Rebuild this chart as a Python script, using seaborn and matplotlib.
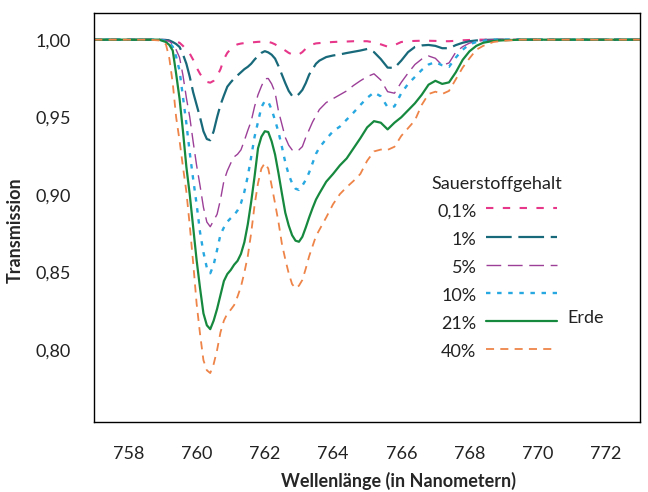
import matplotlib
matplotlib.use("Agg")
import matplotlib.pyplot as plt
import pandas as pd
import seaborn as sns

# ── data ─────────────────────────────────────────────────────────────────────
wavelength = [757.0, 758.0, 758.6, 758.9,
              759.1, 759.2, 759.3, 759.4, 759.5, 759.6, 759.7, 759.8, 759.9,
              760.0, 760.1, 760.2, 760.3, 760.4, 760.5, 760.6, 760.7, 760.8, 760.9,
              761.0, 761.1, 761.2, 761.3, 761.4, 761.5, 761.6, 761.7, 761.8, 761.9,
              762.0, 762.1, 762.2, 762.3, 762.4, 762.5, 762.6, 762.7, 762.8, 762.9,
              763.0, 763.1, 763.2, 763.3, 763.4, 763.5, 763.6,
              763.8, 764.0, 764.2, 764.4, 764.6, 764.8, 765.0, 765.2, 765.4, 765.6,
              765.8, 766.0, 766.2, 766.4, 766.6, 766.8, 767.0, 767.2, 767.4, 767.6,
              767.8, 768.0, 768.2, 768.4, 768.7, 769.0, 769.5, 773.0]

t_0_1 = [1.0, 1.0, 1.0, 1.0,
         0.9998, 0.9997, 0.9993, 0.9987, 0.998, 0.996, 0.9935, 0.991, 0.987,
         0.982, 0.978, 0.9748, 0.9728, 0.9723, 0.9735, 0.9765, 0.981, 0.9875, 0.9915,
         0.994, 0.996, 0.997, 0.9975, 0.9978, 0.998, 0.9982, 0.9984, 0.9986, 0.9987,
         0.9988, 0.9986, 0.998, 0.997, 0.9955, 0.9945, 0.993, 0.9915, 0.9905, 0.9901,
         0.9905, 0.992, 0.9942, 0.996, 0.997, 0.9976, 0.9978,
         0.9982, 0.9985, 0.9987, 0.9988, 0.999, 0.999, 0.999, 0.9982, 0.997, 0.9955,
         0.9965, 0.9985, 0.999, 0.9992, 0.9993, 0.9993, 0.9992, 0.999, 0.999, 0.9993,
         0.9996, 0.9998, 1.0, 1.0, 1.0, 1.0, 1.0, 1.0]

t_1 = [1.0, 1.0, 1.0, 1.0,
       0.9998, 0.9995, 0.9985, 0.9972, 0.9953, 0.9905, 0.9845, 0.976, 0.966,
       0.958, 0.950, 0.941, 0.936, 0.9352, 0.941, 0.950, 0.958, 0.964, 0.9697,
       0.9725, 0.975, 0.977, 0.979, 0.981, 0.9825, 0.9845, 0.9872, 0.9895, 0.9915,
       0.9926, 0.9918, 0.9903, 0.9878, 0.983, 0.9775, 0.972, 0.967, 0.9638, 0.9632,
       0.965, 0.9676, 0.972, 0.9775, 0.981, 0.9845, 0.9865,
       0.9888, 0.9898, 0.9905, 0.9914, 0.9922, 0.993, 0.994, 0.992, 0.9875, 0.982,
       0.9818, 0.9865, 0.992, 0.9953, 0.9963, 0.9966, 0.996, 0.9945, 0.9945, 0.9965,
       0.998, 0.999, 0.9995, 0.9998, 1.0, 1.0, 1.0, 1.0]

t_5 = [1.0, 1.0, 1.0, 1.0,
       0.9995, 0.999, 0.997, 0.9935, 0.9885, 0.977, 0.9625, 0.950, 0.934,
       0.919, 0.906, 0.892, 0.8825, 0.8795, 0.8835, 0.8875, 0.897, 0.909, 0.9155,
       0.9204, 0.9245, 0.9262, 0.929, 0.935, 0.9415, 0.9475, 0.957, 0.9645, 0.970,
       0.9748, 0.975, 0.9715, 0.966, 0.954, 0.9455, 0.937, 0.932, 0.929, 0.928,
       0.929, 0.9311, 0.937, 0.942, 0.947, 0.951, 0.955,
       0.9595, 0.962, 0.9645, 0.967, 0.9705, 0.9735, 0.9762, 0.978, 0.974, 0.9665,
       0.9655, 0.9725, 0.9785, 0.984, 0.9875, 0.9895, 0.988, 0.9835, 0.985, 0.992,
       0.9955, 0.9978, 0.9988, 0.9995, 1.0, 1.0, 1.0, 1.0]

t_10 = [1.0, 1.0, 1.0, 1.0,
        0.9993, 0.998, 0.9955, 0.989, 0.980, 0.963, 0.946, 0.927, 0.910,
        0.894, 0.876, 0.863, 0.853, 0.8495, 0.855, 0.8645, 0.8745, 0.879, 0.8827,
        0.885, 0.887, 0.890, 0.8946, 0.902, 0.912, 0.9245, 0.9375, 0.947, 0.9565,
        0.9605, 0.960, 0.955, 0.948, 0.9405, 0.931, 0.921, 0.913, 0.9075, 0.904,
        0.9032, 0.906, 0.9096, 0.9145, 0.9205, 0.9265, 0.9305,
        0.936, 0.941, 0.944, 0.9485, 0.953, 0.9579, 0.9625, 0.966, 0.9635, 0.9565,
        0.957, 0.9655, 0.9715, 0.976, 0.9805, 0.984, 0.9855, 0.9835, 0.9825, 0.9885,
        0.9935, 0.997, 0.9985, 0.9993, 1.0, 1.0, 1.0, 1.0]

t_21 = [1.0, 1.0, 1.0, 1.0,
        0.9985, 0.9966, 0.993, 0.978, 0.962, 0.941, 0.918, 0.900, 0.879,
        0.858, 0.840, 0.8237, 0.816, 0.8135, 0.819, 0.8265, 0.8355, 0.8445, 0.849,
        0.8516, 0.855, 0.8575, 0.862, 0.8695, 0.881, 0.8955, 0.912, 0.930, 0.9375,
        0.941, 0.9405, 0.9345, 0.926, 0.914, 0.901, 0.8885, 0.8803, 0.874, 0.8705,
        0.8698, 0.873, 0.879, 0.8855, 0.8915, 0.897, 0.901,
        0.9085, 0.9135, 0.919, 0.9235, 0.930, 0.9365, 0.9435, 0.9475, 0.9465, 0.9422,
        0.9465, 0.950, 0.9545, 0.959, 0.9645, 0.971, 0.9735, 0.9715, 0.9725, 0.979,
        0.987, 0.9925, 0.996, 0.998, 0.9992, 0.9996, 1.0, 1.0]

t_40 = [1.0, 1.0, 1.0, 0.9995,
        0.997, 0.988, 0.972, 0.950, 0.935, 0.918, 0.902, 0.880, 0.856,
        0.830, 0.8105, 0.7935, 0.787, 0.7852, 0.791, 0.800, 0.8115, 0.819, 0.8235,
        0.826, 0.829, 0.8345, 0.8409, 0.850, 0.8605, 0.8755, 0.8935, 0.9075, 0.917,
        0.9205, 0.917, 0.906, 0.8945, 0.8825, 0.8685, 0.8585, 0.8495, 0.8425, 0.8398,
        0.8415, 0.8452, 0.8525, 0.8605, 0.867, 0.8735, 0.8775,
        0.8855, 0.894, 0.9005, 0.905, 0.909, 0.9135, 0.922, 0.928, 0.9292, 0.929,
        0.931, 0.938, 0.943, 0.948, 0.958, 0.965, 0.9665, 0.965, 0.967, 0.9745,
        0.982, 0.988, 0.9935, 0.996, 0.9985, 0.9993, 1.0, 1.0]

labels = ["0,1%", "1%", "5%", "10%", "21%", "40%"]
xticks = [758, 760, 762, 764, 766, 768, 770, 772]
yticks = [0.80, 0.85, 0.90, 0.95, 1.00]
ytick_labels = ["0,80", "0,85", "0,90", "0,95", "1,00"]

# ── styles per series (dashes in points) ─────────────────────────────────────
colors = ["#e6378a", "#18697a", "#9c3f98", "#27a8e0", "#17893f", "#ee8448"]
widths = [1.5, 1.6, 1.0, 1.7, 1.6, 1.3]
dashes = [(5.3, 6.8), (18.5, 4.8), (10.6, 4.8), (3.2, 4.8), None, (5.8, 4.5)]

df = pd.DataFrame({
    "Wellenlänge": wavelength * len(labels),
    "Transmission": t_0_1 + t_1 + t_5 + t_10 + t_21 + t_40,
    "Gehalt": [lab for lab in labels for _ in wavelength],
})

sns.set_style("white")
plt.rcParams["font.family"] = ["Lato", "DejaVu Sans"]
plt.rcParams["lines.scale_dashes"] = False
plt.rcParams["text.color"] = "#222222"

fig = plt.figure(figsize=(6.48, 4.92), dpi=100)
ax = fig.add_axes([0.1455, 0.1417, 0.8422, 0.8313])

handles = []
for lab, c, lw, d in zip(labels, colors, widths, dashes):
    ls = "-" if d is None else (0, d)
    sns.lineplot(data=df[df["Gehalt"] == lab], x="Wellenlänge", y="Transmission",
                 color=c, linewidth=lw, linestyle=ls, errorbar=None,
                 legend=False, ax=ax)
    handles.append(ax.get_lines()[-1])

ax.set_xlim(757, 773)
ax.set_ylim(0.7535, 1.017)
ax.set_xticks(xticks)
ax.set_xticklabels([str(t) for t in xticks])
ax.set_yticks(yticks)
ax.set_yticklabels(ytick_labels)
ax.tick_params(axis="both", direction="out", length=9, width=1.1, color="#444444",
               pad=8, labelsize=13, labelcolor="#222222")
ax.yaxis.get_major_ticks()[-1].tick1line.set_visible(False)
for sp in ax.spines.values():
    sp.set_color("black")
    sp.set_linewidth(1.0)

ax.set_xlabel("Wellenlänge (in Nanometern)", fontsize=13, fontweight="bold")
ax.set_ylabel("Transmission", fontsize=13, fontweight="bold")
ax.xaxis.set_label_coords(0.5575, -0.122)
ax.yaxis.set_label_coords(-0.13, 0.47)

leg = ax.legend(handles, labels, title="Sauerstoffgehalt", markerfirst=False,
                frameon=False, fontsize=13, title_fontsize=13,
                loc="upper left", bbox_to_anchor=(0.618, 0.602),
                borderaxespad=0, borderpad=0, handlelength=3.9,
                handletextpad=0.55, handleheight=1.3, labelspacing=0.47)
ax.text(0.8675, 0.255, "Erde", transform=ax.transAxes, fontsize=13,
        va="center", ha="left")

fig.savefig("out.png", dpi=100)
